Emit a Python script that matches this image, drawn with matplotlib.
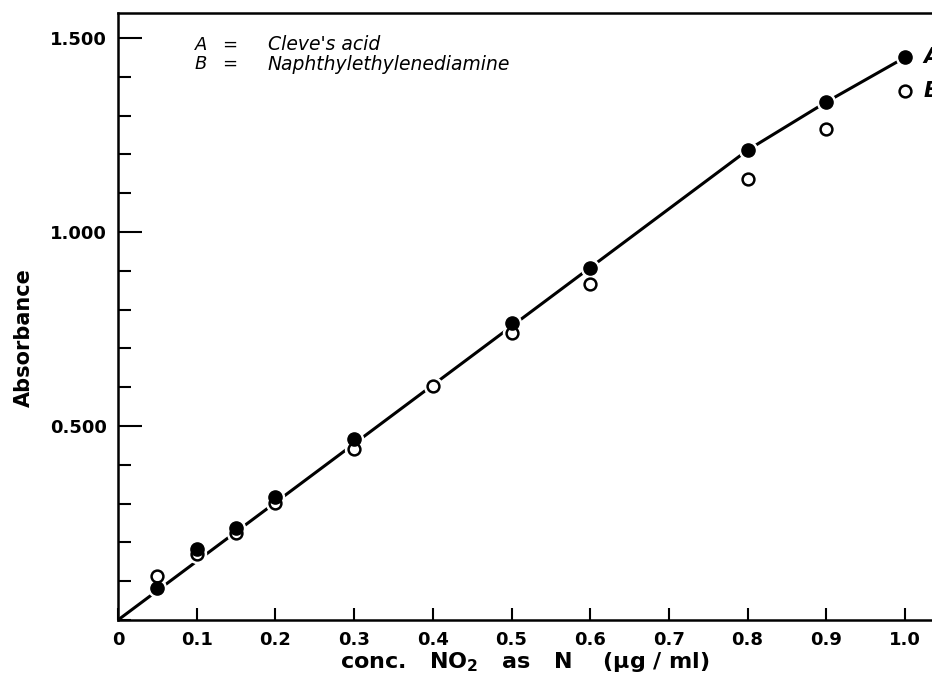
import matplotlib
matplotlib.use("Agg")
import matplotlib.pyplot as plt
from matplotlib.ticker import MultipleLocator, FixedLocator

# Nitrite calibration: absorbance vs. concentration for two coupling reagents
conc_a = [0.05, 0.10, 0.15, 0.20, 0.30, 0.50, 0.60, 0.80, 0.90, 1.00]
abs_a = [0.082, 0.183, 0.237, 0.317, 0.466, 0.765, 0.907, 1.211, 1.335, 1.450]

conc_b = [0.05, 0.10, 0.15, 0.20, 0.30, 0.40, 0.50, 0.60, 0.80, 0.90, 1.00]
abs_b = [0.113, 0.170, 0.224, 0.302, 0.441, 0.603, 0.740, 0.866, 1.137, 1.265, 1.363]

# Calibration curve drawn through the series
curve_x = [0.0, 0.80, 0.90, 1.00]
curve_y = [0.0, 1.211, 1.335, 1.450]

x_ticks = [0, 0.1, 0.2, 0.3, 0.4, 0.5, 0.6, 0.7, 0.8, 0.9, 1.0]
x_tick_labels = ["0", "0.1", "0.2", "0.3", "0.4", "0.5", "0.6", "0.7", "0.8", "0.9", "1.0"]
y_ticks = [0.5, 1.0, 1.5]
y_tick_labels = ["0.500", "1.000", "1.500"]

key_symbols = ["A", "B"]
key_names = ["Cleve's acid", "Naphthylethylenediamine"]

W, H = 932, 680
fig = plt.figure(figsize=(W / 100, H / 100), dpi=100)

px_per_x = 787.0   # pixels per concentration unit
px_per_y = 388.0   # pixels per absorbance unit
x0, y0 = 118, 620  # origin in pixels (from top-left)
xmax, ymax = 1.07, 1.564
ax = fig.add_axes([x0 / W, (H - y0) / H, xmax * px_per_x / W, ymax * px_per_y / H])
ax.set_xlim(0, xmax)
ax.set_ylim(0, ymax)

lw = 2.2
for side in ["left", "bottom", "top"]:
    ax.spines[side].set_linewidth(1.8)
ax.spines["right"].set_visible(False)

# curve, white halos to break the line at each point, then the points
ax.plot(curve_x, curve_y, color="black", lw=lw, solid_capstyle="butt", zorder=2)
ax.plot(conc_a + conc_b, abs_a + abs_b, linestyle="none", marker="o", ms=13,
        color="white", mec="white", zorder=3)
ax.plot(conc_b, abs_b, linestyle="none", marker="o", ms=8.5, mfc="white",
        mec="black", mew=1.8, zorder=4)
ax.plot(conc_a, abs_a, linestyle="none", marker="o", ms=9.5, color="black", zorder=5)

# ticks
ax.xaxis.set_major_locator(FixedLocator(x_ticks))
ax.set_xticklabels(x_tick_labels)
ax.yaxis.set_major_locator(FixedLocator(y_ticks))
ax.set_yticklabels(y_tick_labels)
ax.yaxis.set_minor_locator(MultipleLocator(0.1))
ax.tick_params(axis="x", direction="in", length=9, width=1.5, pad=8,
               labelsize=13, top=False)
ax.tick_params(axis="y", direction="in", length=17, width=1.5, pad=8,
               labelsize=13, right=False)
ax.tick_params(axis="y", which="minor", direction="in", length=9, width=1.5,
               right=False)
for lab in ax.get_xticklabels() + ax.get_yticklabels():
    lab.set_fontweight("bold")

# axis titles
fig.text(525 / W, 1 - 662 / H, r"conc.   NO$_\mathbf{2}$   as   N    ($\mathbf{\mu}$g / ml)",
         ha="center", va="center", fontsize=16, fontweight="bold")
fig.text(24 / W, 1 - 338 / H, "Absorbance", rotation=90, ha="center", va="center",
         fontsize=15, fontweight="bold")

# key
for i, (sym, name) in enumerate(zip(key_symbols, key_names)):
    yk = 1 - (45 + 19 * i) / H
    fig.text(195 / W, yk, sym, ha="left", va="center", fontsize=13, style="italic")
    fig.text(222 / W, yk, "=", ha="left", va="center", fontsize=13, style="italic")
    fig.text(268 / W, yk, name, ha="left", va="center", fontsize=13.5, style="italic")

# series tags beside the last points
ax.text(conc_a[-1] + 0.023, abs_a[-1], key_symbols[0], ha="left", va="center",
        fontsize=15, style="italic", fontweight="bold", clip_on=False)
ax.text(conc_b[-1] + 0.023, abs_b[-1], key_symbols[1], ha="left", va="center",
        fontsize=15, style="italic", fontweight="bold", clip_on=False)

fig.savefig("out.png", dpi=100)
